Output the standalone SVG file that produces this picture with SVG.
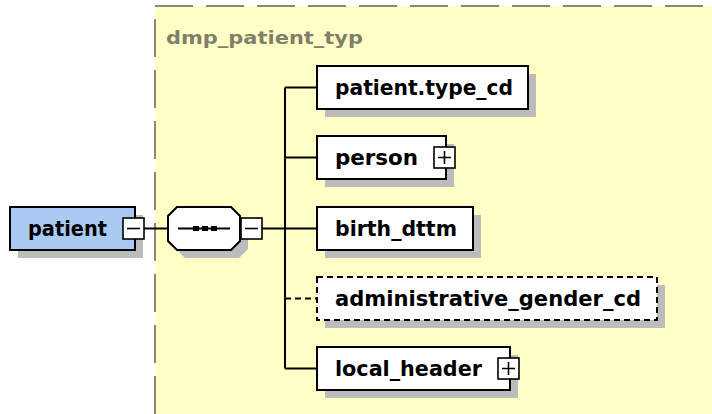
<svg xmlns="http://www.w3.org/2000/svg" width="712" height="414" viewBox="0 0 712 414">
<style>
.lbl{font-family:"DejaVu Sans",Verdana,sans-serif;font-weight:bold;font-size:20.5px;fill:#000}
.ttl{font-family:"DejaVu Sans",Verdana,sans-serif;font-weight:bold;font-size:18px;fill:#7f7f6a}
.box{fill:#fff;stroke:#000;stroke-width:2}
.sh{fill:#bcbcbc}
.ic{fill:#fff;stroke:#000;stroke-width:1.6}
.sg{stroke:#000;stroke-width:1.6;fill:none}
.ln{stroke:#000;stroke-width:2;fill:none}
</style>
<rect width="712" height="414" fill="#fff"/>
<g id="type">
<rect x="155" y="6" width="557" height="408" fill="#ffffc6"/>
<path d="M155 414 V6 H712" fill="none" stroke="#87877a" stroke-width="2" stroke-dasharray="38 13"/>
<text class="ttl" x="166" y="44" textLength="197" lengthAdjust="spacingAndGlyphs">dmp_patient_typ</text>
</g>
<g id="connectors">
<path class="ln" d="M144 228.5 H168"/>
<path class="ln" d="M262 228.5 H317"/>
<path class="ln" d="M285 87.5 V368.5"/>
<path class="ln" d="M285 87.5 H317"/>
<path class="ln" d="M285 157.5 H317"/>
<path class="ln" d="M285 368.5 H317"/>
<path class="ln" d="M285 298.5 H317" stroke-dasharray="6 4"/>
</g>
<g id="patient">
<rect class="sh" x="18" y="215" width="125" height="43"/>
<rect x="10" y="207" width="125" height="43" fill="#a9caf3" stroke="#000" stroke-width="2"/>
<text class="lbl" x="28" y="236" textLength="79" lengthAdjust="spacingAndGlyphs">patient</text>
<rect class="ic" x="123" y="218" width="21" height="21"/>
<path class="sg" d="M127 228.5 H140"/>
</g>
<g id="sequence">
<polygon class="sh" points="185,215 239,215 248,224 248,249 239,258 185,258 176,249 176,224"/>
<polygon class="box" points="177,207 231,207 240,216 240,241 231,250 177,250 168,241 168,216"/>
<path class="ln" d="M178 228.5 H230"/>
<rect x="193" y="226" width="6" height="5" fill="#000"/>
<rect x="202" y="226" width="6" height="5" fill="#000"/>
<rect x="211" y="226" width="6" height="5" fill="#000"/>
<rect class="ic" x="241" y="218" width="21" height="21"/>
<path class="sg" d="M245 228.5 H258"/>
</g>
<g id="patient_type_cd">
<rect class="sh" x="325" y="74" width="211" height="43"/>
<rect class="box" x="317" y="66" width="211" height="43"/>
<text class="lbl" x="335" y="95" textLength="178" lengthAdjust="spacingAndGlyphs">patient.type_cd</text>
</g>
<g id="person">
<rect class="sh" x="325" y="144" width="129" height="43"/>
<rect class="box" x="317" y="136" width="129" height="43"/>
<text class="lbl" x="335" y="165" textLength="83" lengthAdjust="spacingAndGlyphs">person</text>
<rect class="ic" x="434" y="147" width="21" height="21"/>
<path class="sg" d="M438 157.5 H451 M444.5 151 V164"/>
</g>
<g id="birth_dttm">
<rect class="sh" x="325" y="215" width="156" height="43"/>
<rect class="box" x="317" y="207" width="156" height="43"/>
<text class="lbl" x="335" y="236" textLength="122" lengthAdjust="spacingAndGlyphs">birth_dttm</text>
</g>
<g id="administrative_gender_cd">
<rect class="sh" x="325" y="285" width="340" height="43"/>
<rect class="box" x="317" y="277" width="340" height="43" stroke-dasharray="6 4"/>
<text class="lbl" x="335" y="306" textLength="306" lengthAdjust="spacingAndGlyphs">administrative_gender_cd</text>
</g>
<g id="local_header">
<rect class="sh" x="325" y="355" width="193" height="43"/>
<rect class="box" x="317" y="347" width="193" height="43"/>
<text class="lbl" x="335" y="376" textLength="147" lengthAdjust="spacingAndGlyphs">local_header</text>
<rect class="ic" x="498" y="358" width="21" height="21"/>
<path class="sg" d="M502 368.5 H515 M508.5 362 V375"/>
</g>
</svg>
